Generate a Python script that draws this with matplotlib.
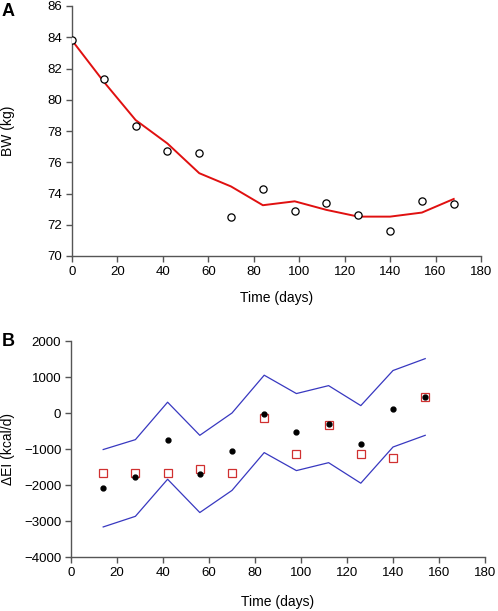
import numpy as np
import matplotlib
matplotlib.use("Agg")
import matplotlib.pyplot as plt

plt.rcParams['font.family'] = ['Liberation Sans', 'DejaVu Sans']

# panel A: body weight
days_a = [0, 14, 28, 42, 56, 70, 84, 98, 112, 126, 140, 154, 168]
bw_obs = [83.8, 81.3, 78.3, 76.7, 76.6, 72.5, 74.3, 72.9, 73.4, 72.6, 71.6, 73.5, 73.3]
bw_model = [83.8, 81.15, 78.7, 77.2, 75.3, 74.45, 73.25, 73.5, 72.95, 72.52, 72.52, 72.78, 73.65]

# panel B: change in energy intake
days_b = [14, 28, 42, 56, 70, 84, 98, 112, 126, 140, 154]
dei_black = [-2070, -1790, -760, -1690, -1045, -30, -530, -295, -860, 120, 455]
dei_red = [-1655, -1655, -1655, -1555, -1655, -140, -1145, -335, -1145, -1250, 455]
dei_upper = [-1015, -740, 300, -620, 0, 1050, 540, 760, 205, 1180, 1510]
dei_lower = [-3165, -2870, -1840, -2765, -2150, -1100, -1600, -1380, -1950, -945, -620]

W, H = 498, 611
fig = plt.figure(figsize=(W / 100, H / 100), dpi=100)

def px_axes(l, t, r, b):
    return fig.add_axes([l / W, 1 - b / H, (r - l) / W, (b - t) / H])

def style(ax):
    for s in ['top', 'right']:
        ax.spines[s].set_visible(False)
    for s in ['left', 'bottom']:
        ax.spines[s].set_color('#555555')
        ax.spines[s].set_linewidth(1)
    ax.tick_params(direction='out', length=4, width=1, color='#555555',
                   labelsize=9.5, pad=3)

axA = px_axes(72, 6, 481, 256)
axA.plot(days_a, bw_model, color='#e01010', lw=1.4, zorder=2)
axA.plot(days_a, bw_obs, 'o', ms=5.2, mfc='white', mec='black', mew=0.9, ls='none', zorder=3)
axA.set_xlim(0, 180)
axA.set_ylim(70, 86)
axA.set_xticks(np.arange(0, 181, 20))
axA.set_yticks(np.arange(70, 87, 2))
axA.set_xlabel('Time (days)', fontsize=10)
axA.set_ylabel('BW (kg)', fontsize=10)
axA.xaxis.set_label_coords(0.5, -0.14)
axA.yaxis.set_label_coords(-0.139, 0.5)
style(axA)
fig.text(2 / W, 1 - 11 / H, 'A', fontsize=13, fontweight='bold', va='center', ha='left')

axB = px_axes(71, 341, 485, 557)
axB.plot(days_b, dei_upper, color='#3838c0', lw=0.9)
axB.plot(days_b, dei_lower, color='#3838c0', lw=0.9)
axB.plot(days_b, dei_red, 's', ms=5.2, mfc='white', mec='#d03030', mew=0.9, ls='none')
axB.plot(days_b, dei_black, 'o', ms=3.5, color='black', ls='none')
axB.set_xlim(0, 180)
axB.set_ylim(-4000, 2000)
axB.set_xticks(np.arange(0, 181, 20))
axB.set_yticks(np.arange(-4000, 2001, 1000))
axB.set_xlabel('Time (days)', fontsize=10)
axB.set_ylabel('ΔEI (kcal/d)', fontsize=10)
axB.xaxis.set_label_coords(0.5, -0.176)
axB.yaxis.set_label_coords(-0.135, 0.5)
style(axB)
fig.text(2 / W, 1 - 342 / H, 'B', fontsize=13, fontweight='bold', va='center', ha='left')

fig.savefig('out.png', dpi=100)
